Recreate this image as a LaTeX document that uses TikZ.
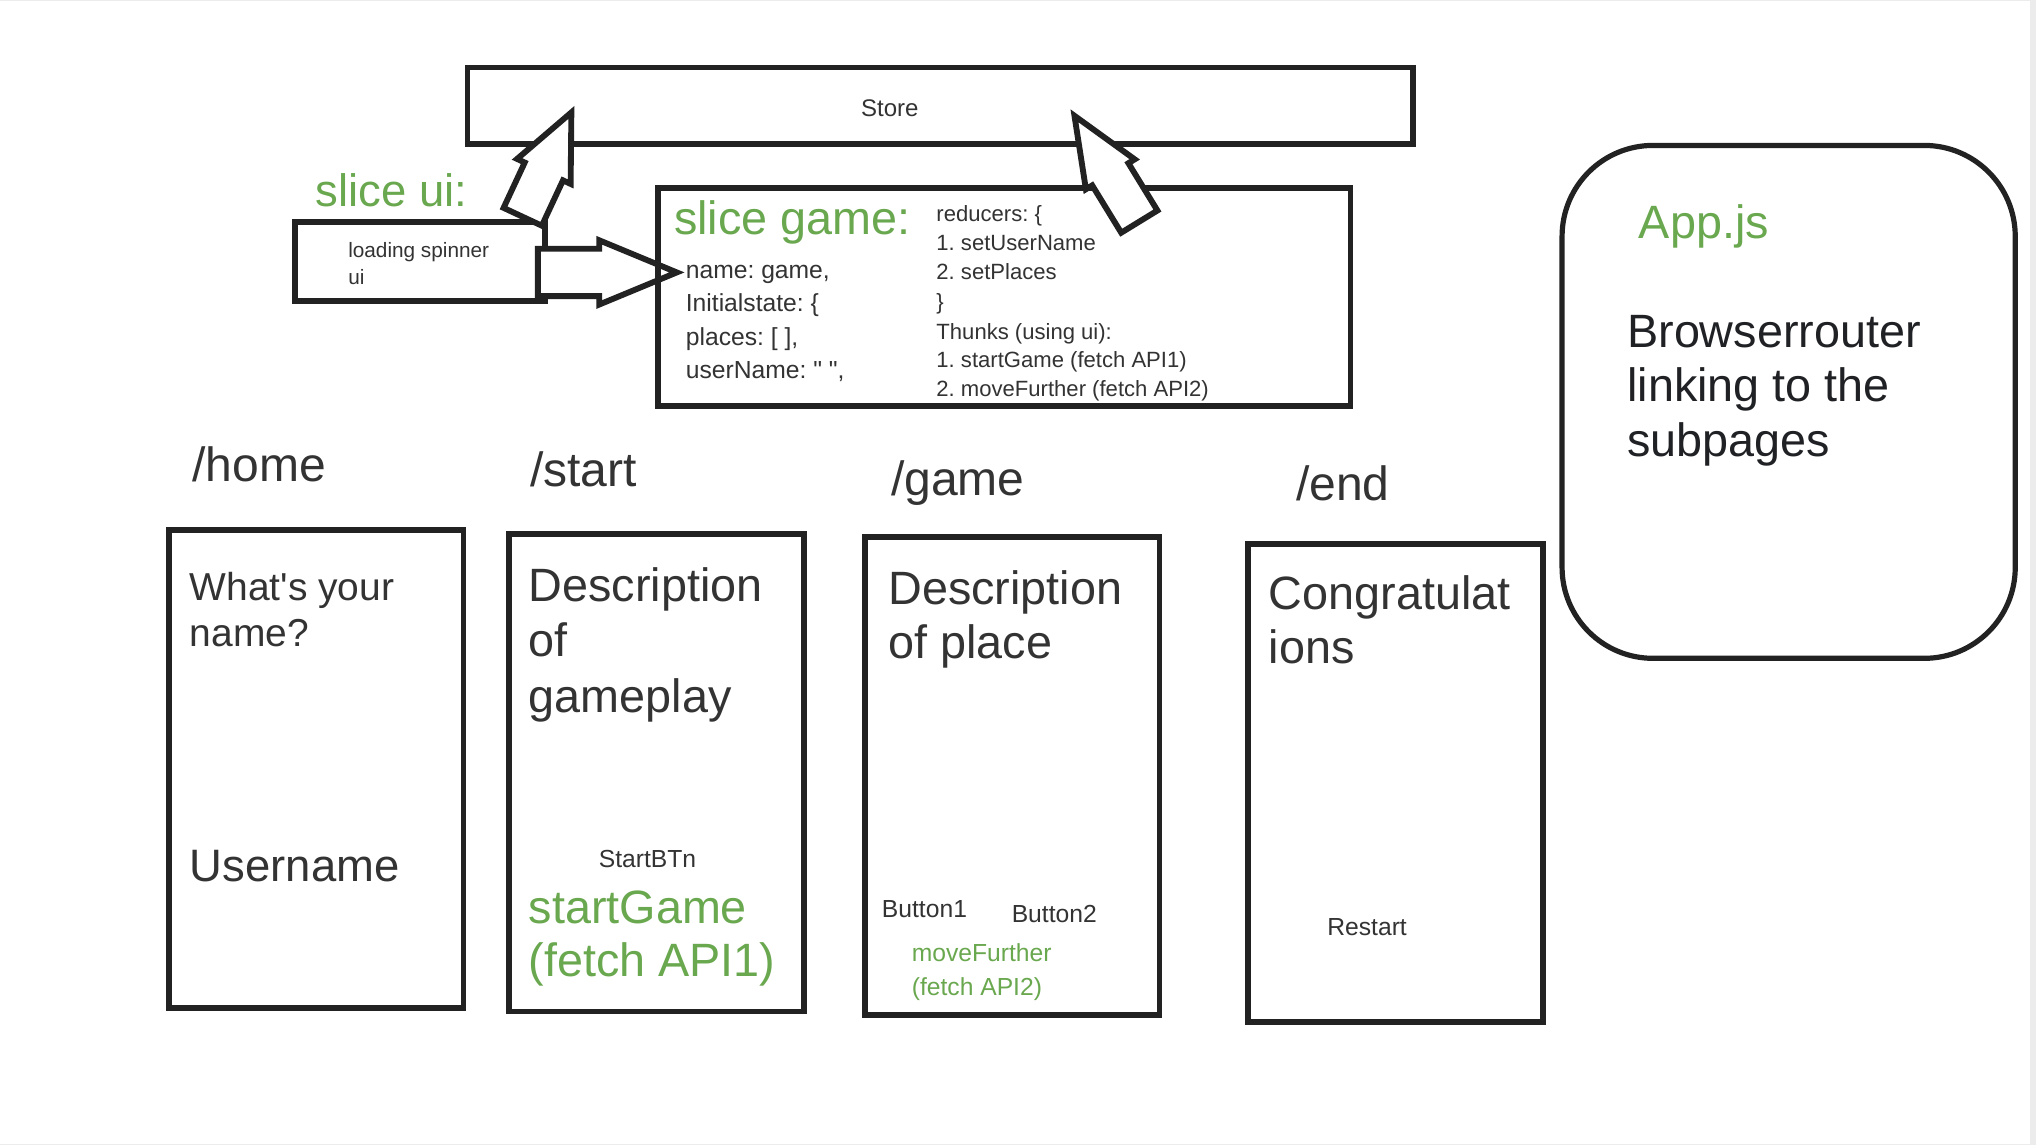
\documentclass[tikz,border=0pt]{standalone}
\usepackage{fontspec}
\setmainfont{Liberation Sans}[Ligatures=TeXOff]
\usetikzlibrary{shapes.arrows}
\frenchspacing

\definecolor{ink}{HTML}{222222}
\definecolor{txtgray}{HTML}{333333}
\definecolor{deepink}{HTML}{202124}
\definecolor{sliceGreen}{HTML}{6AA84F}
\newcommand{\fsz}[1]{\fontsize{#1}{#1}\selectfont}

\tikzset{
  frame/.style={draw=ink, line width=4.5pt, inner sep=0pt},
  blockarrow/.style={single arrow, draw=ink, fill=white, line width=4.5pt, inner xsep=0pt, anchor=tail},
  txt/.style={anchor=mid west, inner sep=0pt, text=txtgray},
  fs/.style={font=\fsz{#1}, yshift={-0.27*#1}},
}

\begin{document}
\begin{tikzpicture}[x=1pt, y=-1pt]

    \useasboundingbox (0,0) rectangle (1568,882);
    \fill[gray!15] (0,0) rectangle (1568,882);
    \fill[white] (0,1) rectangle (1563,881);

    % Store
    \node[frame, minimum width=728pt, minimum height=59pt] (store) at (724,81.5) {};
    \node[txt, fs=18.5] (storeLabel) at (663,82) {Store};

    % slice ui
    \node[txt, fs=35, text=sliceGreen] (uiTitle) at (243,147) {slice ui:};
    \node[frame, minimum width=193pt, minimum height=61pt] (loading) at (323.5,201.5) {};
    \node[txt, fs=16] (loadingA) at (268,191) {loading spinner};
    \node[txt, fs=16] (loadingB) at (268,212) {ui};

    % ui slice feeds the game slice
    \node[blockarrow, inner ysep=16pt, minimum height=107pt, single arrow head extend=6.5pt, single arrow tip angle=45] (uiToGame) at (412,209.8) {};

    % slice game
    \node[frame, minimum width=533pt, minimum height=168pt] (gameSlice) at (773.5,229) {};
    \node[txt, fs=36, text=sliceGreen] (gameTitle) at (519,168) {slice game:};
    \foreach \y/\entry [count=\i] in {207/{name: game,}, 232/{Initialstate: \{}, 258/{places: [ ],}, 284/{userName: " ",}} {
        \node[txt, fs=19] (state\i) at (528,\y) {\entry};
    }
    \foreach \y/\entry [count=\i] in {163/{reducers: \{}, 186/{1. setUserName}, 208/{2. setPlaces}, 231/{\}}, 254/{Thunks (using ui):}, 276/{1. startGame (fetch API1)}, 298/{2. moveFurther (fetch API2)}} {
        \node[txt, fs=17] (reducer\i) at (721,\y) {\entry};
    }

    % both slices go into the store
    \node[blockarrow, rotate=65, inner ysep=14pt, minimum height=88.7pt, single arrow head extend=6.5pt, single arrow tip angle=48.8] (uiToStore) at (401.6,169) {};
    \node[blockarrow, rotate=121.5, inner ysep=14.1pt, minimum height=95.6pt, single arrow head extend=5.7pt, single arrow tip angle=45.3] (gameToStore) at (878.6,172.6) {};

    % Routes
    \foreach \x/\y/\route [count=\i] in {148/358/home, 408/362/start, 686/369/game, 998/373/end} {
        \node[txt, fs=37] (route\i) at (\x,\y) {/\route};
    }

    % Pages
    \foreach \name/\x/\y in {home/243.5/592, start/505.5/595, play/779.5/597.5, finish/1074.5/603} {
        \node[frame, minimum width=227pt, minimum height=368pt] (\name) at (\x,\y) {};
    }

    % /home
    \node[txt, fs=30] (askName1) at (146,452) {What's your};
    \node[txt, fs=30] (askName2) at (146,487) {name?};
    \node[txt, fs=35] (userField) at (146,667) {Username};

    % /start
    \foreach \y/\entry [count=\i] in {451/Description, 493/of, 536/gameplay} {
        \node[txt, fs=36] (startDesc\i) at (407,\y) {\entry};
    }
    \node[txt, fs=19] (startBtn) at (461,660) {StartBTn};
    \node[txt, fs=36, text=sliceGreen] (startCall1) at (407,699) {startGame};
    \node[txt, fs=36, text=sliceGreen] (startCall2) at (407,740) {(fetch API1)};

    % /game
    \node[txt, fs=36] (placeDesc1) at (684,453) {Description};
    \node[txt, fs=36] (placeDesc2) at (684,495) {of place};
    \node[txt, fs=19] (btnOne) at (679,699) {Button1};
    \node[txt, fs=19] (btnTwo) at (779,703) {Button2};
    \node[txt, fs=19, text=sliceGreen] (moveCall1) at (702,733) {moveFurther};
    \node[txt, fs=19, text=sliceGreen] (moveCall2) at (702,759) {(fetch API2)};

    % /end
    \node[txt, fs=36] (congrats1) at (977,457) {Congratulat};
    \node[txt, fs=36] (congrats2) at (977,499) {ions};
    \node[txt, fs=19] (restartBtn) at (1022,713) {Restart};

    % App.js
    \node[frame, line width=4pt, rounded corners=70pt, minimum width=349pt, minimum height=395pt] (app) at (1377.5,309.5) {};
    \node[txt, fs=36, text=sliceGreen] (appTitle) at (1262,171) {App.js};
    \foreach \y/\entry [count=\i] in {255/Browserrouter, 297/{linking to the}, 339/subpages} {
        \node[txt, fs=36, text=deepink] (router\i) at (1253,\y) {\entry};
    }

\end{tikzpicture}
\end{document}
